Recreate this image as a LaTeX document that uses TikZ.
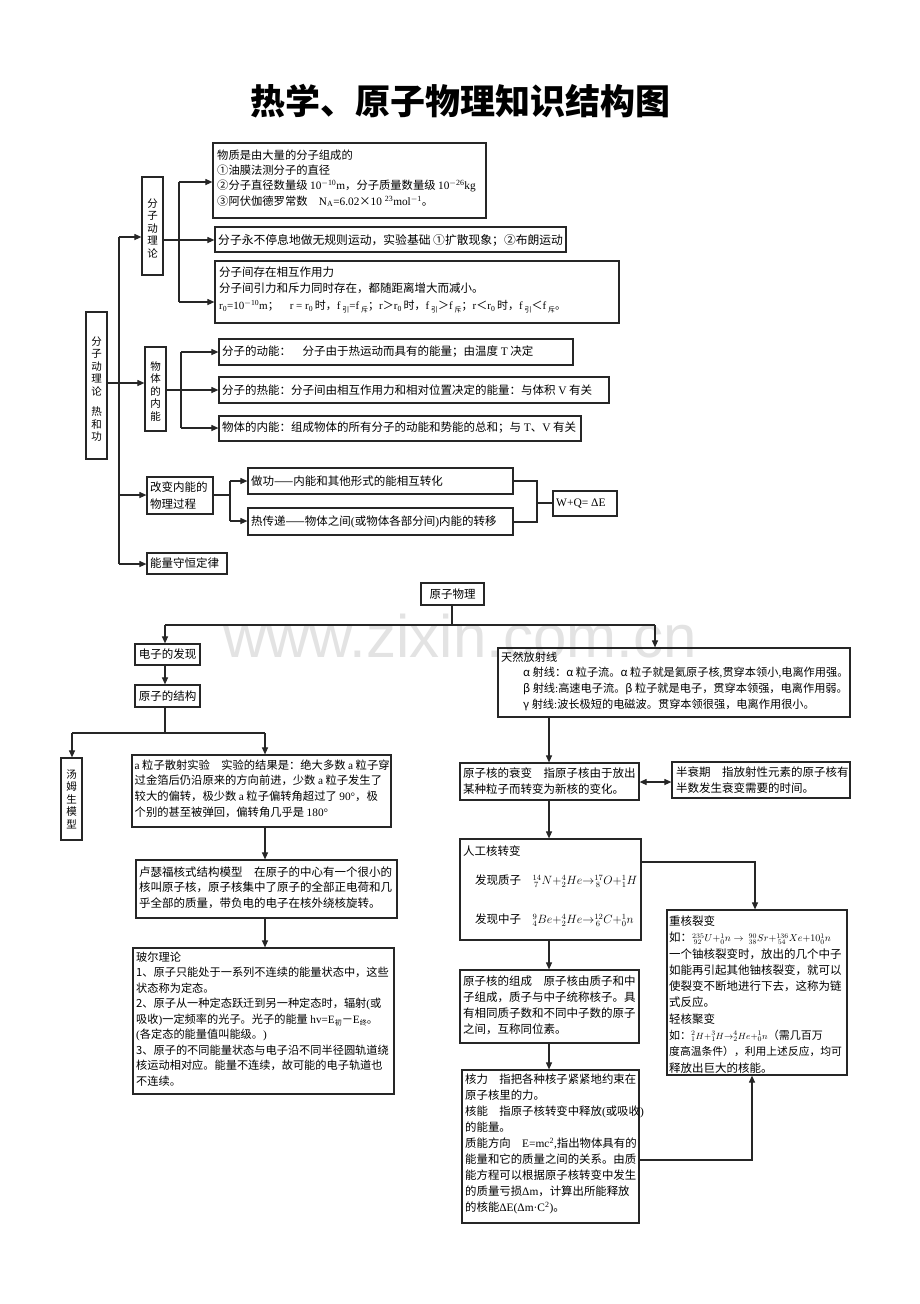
\documentclass[tikz,border=0pt]{standalone}
\usepackage{fontspec}
\setmainfont{Noto Sans CJK SC}
\newfontfamily\lat{Liberation Serif}
\newfontfamily\wmfont{Liberation Sans}
\usetikzlibrary{arrows.meta,fit}
\newcommand\csub[1]{\raisebox{-0.25em}{\fontsize{7}{7}\selectfont #1}}
\tikzset{
  bx/.style={draw=black!85, line width=1.2pt, inner sep=0pt, rectangle},
  txt/.style={inner sep=0pt, align=left, anchor=north west, font=\fontsize{11.5}{15.5}\selectfont},
  vtxt/.style={inner sep=0pt, align=center, font=\fontsize{10.5}{12.5}\selectfont},
  ln/.style={line width=1.1pt, draw=black!85},
  arr/.style={ln, -{Triangle[length=7pt,width=6pt]}},
  darr/.style={ln, {Triangle[length=7pt,width=6pt]}-{Triangle[length=7pt,width=6pt]}},
}
\begin{document}
\begin{tikzpicture}[x=1pt,y=-1pt]
\useasboundingbox (0,0) rectangle (920,1304);
\fill[white] (0,0) rectangle (920,1304);
% watermark
\node[text=black!11, font=\wmfont\fontsize{60}{60}\selectfont, inner sep=0pt] (wm) at (460,636) {www.zixin.com.cn};
% title
\node[font=\fontsize{35}{35}\selectfont\bfseries, inner sep=0pt] (title) at (460,101) {热学、原子物理知识结构图};

% ---------------- thermal part: boxes ----------------
\node[bx, fit={(86,312)(107,459)}] (big) {};
\node[vtxt] (bigt) at (96.5,389) {分\\子\\动\\理\\论\\[8pt]热\\和\\功};
\node[bx, fit={(142,177)(163,275)}] (fz) {};
\node[vtxt] (fzt) at (152.5,228) {分\\子\\动\\理\\论};
\node[bx, fit={(213,143)(486,218)}] (b1) {};
\node[txt, font=\fontsize{11.3}{15.3}\selectfont] (b1t) at (217,149.5) {物质是由大量的分子组成的\\①油膜法测分子的直径\\②分子直径数量级 {\lat 10\textsuperscript{$-$10}m}，分子质量数量级 {\lat 10\textsuperscript{$-$26}kg}\\③阿伏伽德罗常数\quad {\lat N\textsubscript{A}=6.02}×{\lat 10 \textsuperscript{23}mol\textsuperscript{$-$1}}。};
\node[bx, fit={(215,227)(566,252)}] (b2) {};
\node[txt, anchor=west, font=\fontsize{11.8}{15.5}\selectfont] (b2t) at (218,240) {分子永不停息地做无规则运动，实验基础 ①扩散现象；②布朗运动};
\node[bx, fit={(215,261)(619,323)}] (b3) {};
\node[txt, font=\fontsize{11.5}{16.5}\selectfont] (b3t) at (219,266.5) {分子间存在相互作用力\\分子间引力和斥力同时存在，都随距离增大而减小。\\{\fontsize{11}{12}\selectfont {\lat r\textsubscript{0}=10\textsuperscript{$-$10}m}；\quad {\lat r = r\textsubscript{0}}\,时，{\lat f}\,\csub{引}{\lat =f}\,\csub{斥}；{\lat r}＞{\lat r\textsubscript{0}}\,时，{\lat f}\,\csub{引}＞{\lat f}\,\csub{斥}；{\lat r}＜{\lat r\textsubscript{0}}\,时，{\lat f}\,\csub{引}＜{\lat f}\,\csub{斥}。}};
\node[bx, fit={(145,347)(166,431)}] (wn) {};
\node[vtxt] (wnt) at (155.5,391) {物\\体\\的\\内\\能};
\node[bx, fit={(219,339)(573,365)}] (dn) {};
\node[txt, anchor=west] (dnt) at (222,352) {分子的动能：\quad 分子由于热运动而具有的能量；由温度 {\lat T} 决定};
\node[bx, fit={(219,377)(609,403)}] (rn) {};
\node[txt, anchor=west] (rnt) at (222,390) {分子的热能：分子间由相互作用力和相对位置决定的能量：与体积 {\lat V} 有关};
\node[bx, fit={(219,416)(581,441)}] (nn) {};
\node[txt, anchor=west] (nnt) at (222,428) {物体的内能：组成物体的所有分子的动能和势能的总和；与 {\lat T}、{\lat V} 有关};
\node[bx, fit={(147,477)(213,514)}] (gb) {};
\node[txt, font=\fontsize{11.5}{16.5}\selectfont] (gbt) at (150,482) {改变内能的\\物理过程};
\node[bx, fit={(248,468)(513,494)}] (zg) {};
\node[txt, anchor=west] (zgt) at (251,481) {做功——内能和其他形式的能相互转化};
\node[bx, fit={(248,508)(513,535)}] (rc) {};
\node[txt, anchor=west] (rct) at (251,522) {热传递——物体之间{\lat (}或物体各部分间{\lat )}内能的转移};
\node[bx, fit={(553,491)(617,516)}] (wq) {};
\node[txt, anchor=west] (wqt) at (556,503.5) {\lat W+Q= ΔE};
\node[bx, fit={(147,553)(227,574)}] (nl) {};
\node[txt, anchor=west] (nlt) at (150,563.5) {能量守恒定律};

% ---------------- thermal part: connectors ----------------
\coordinate (ta) at (119,237);
\coordinate (tb) at (119,564);
\coordinate (tc) at (119,495);
\draw[ln] (ta) -- (tb);
\draw[arr] (ta) -- (fz.west |- ta);
\coordinate (ty) at (0,383);
\draw[arr] (big.east |- ty) -- (wn.west |- ty);
\draw[arr] (tc) -- (gb.west |- tc);
\draw[arr] (tb) -- (nl.west |- tb);
\coordinate (fa) at (179,182);
\coordinate (fb) at (179,302);
\coordinate (fy) at (0,240);
\draw[ln] (fa) -- (fb);
\draw[arr] (fa) -- (b1.west |- fa);
\draw[arr] (fz.east |- fy) -- (b2.west |- fy);
\draw[arr] (fb) -- (b3.west |- fb);
\coordinate (wa) at (181,352);
\coordinate (wb) at (181,428);
\coordinate (wy) at (0,390);
\draw[ln] (wa) -- (wb);
\draw[arr] (wa) -- (dn.west |- wa);
\draw[arr] (wn.east |- wy) -- (rn.west |- wy);
\draw[arr] (wb) -- (nn.west |- wb);
\coordinate (ga) at (230,481);
\coordinate (gc) at (230,521);
\draw[ln] (gb.east |- tc) -- (tc -| ga);
\draw[ln] (ga) -- (gc);
\draw[arr] (ga) -- (zg.west |- ga);
\draw[arr] (gc) -- (rc.west |- gc);
\coordinate (ra) at (537,481);
\coordinate (rb) at (537,522);
\coordinate (rm) at (537,503);
\draw[ln] (zg.east |- ra) -- (ra) -- (rb) -- (rc.east |- rb);
\draw[ln] (rm) -- (wq.west |- rm);

% ---------------- atomic part: boxes ----------------
\node[bx, fit={(421,583)(484,605)}] (yz) {};
\node[txt, anchor=center] (yzt) at (yz.center) {原子物理};
\node[bx, fit={(135,644)(200,665)}] (dz) {};
\node[txt, anchor=center] (dzt) at (dz.center) {电子的发现};
\node[bx, fit={(135,685)(200,707)}] (jg) {};
\node[txt, anchor=center] (jgt) at (jg.center) {原子的结构};
\node[bx, fit={(61,758)(82,840)}] (tm) {};
\node[vtxt] (tmt) at (tm.center) {汤\\姆\\生\\模\\型};
\node[bx, fit={(132,755)(391,827)}] (as) {};
\node[txt, font=\fontsize{11.3}{15.6}\selectfont] (ast) at (134.5,759.5) {{\lat a} 粒子散射实验\quad 实验的结果是：绝大多数 {\lat a} 粒子穿\\过金箔后仍沿原来的方向前进，少数 {\lat a} 粒子发生了\\较大的偏转，极少数 {\lat a} 粒子偏转角超过了 {\lat 90°}，极\\个别的甚至被弹回，偏转角几乎是 {\lat 180°}};
\node[bx, fit={(136,860)(397,918)}] (lsf) {};
\node[txt] (lsft) at (139,866.5) {卢瑟福核式结构模型\quad 在原子的中心有一个很小的\\核叫原子核，原子核集中了原子的全部正电荷和几\\乎全部的质量，带负电的电子在核外绕核旋转。};
\node[bx, fit={(133,948)(394,1094)}] (be) {};
\node[txt, font=\fontsize{11.2}{15.5}\selectfont] (bet) at (136,951.5) {玻尔理论\\1、原子只能处于一系列不连续的能量状态中，这些\\状态称为定态。\\2、原子从一种定态跃迁到另一种定态时，辐射{\lat (}或\\吸收{\lat )}一定频率的光子。光子的能量 {\lat hv=E}\csub{初}－{\lat E}\csub{终}。\\{\lat (}各定态的能量值叫能级。{\lat )}\\3、原子的不同能量状态与电子沿不同半径圆轨道绕\\核运动相对应。能量不连续，故可能的电子轨道也\\不连续。};
\node[bx, fit={(498,648)(850,717)}] (tr) {};
\node[txt, font=\fontsize{11.2}{15.6}\selectfont] (trt) at (501,651.5) {天然放射线\\\hspace{22pt}α 射线：α 粒子流。α 粒子就是氦原子核{\lat ,}贯穿本领小{\lat ,}电离作用强。\\\hspace{22pt}β 射线{\lat :}高速电子流。β 粒子就是电子，贯穿本领强，电离作用弱。\\\hspace{22pt}γ 射线{\lat :}波长极短的电磁波。贯穿本领很强，电离作用很小。};
\node[bx, fit={(460,763)(639,800)}] (sb) {};
\node[txt, font=\fontsize{11.5}{16}\selectfont] (sbt) at (463,767.5) {原子核的衰变\quad 指原子核由于放出\\某种粒子而转变为新核的变化。};
\node[bx, fit={(672,762)(850,798)}] (bs) {};
\node[txt, font=\fontsize{11.5}{16}\selectfont] (bst) at (676,766.5) {半衰期\quad 指放射性元素的原子核有\\半数发生衰变需要的时间。};
\node[bx, fit={(460,839)(641,940)}] (rg) {};
\node[txt] (rgt) at (463,845.5) {人工核转变};
\node[txt, anchor=west] (rgp) at (475,881) {发现质子\quad ${}^{14}_{\,7}N{+}{}^{4}_{2}He{\rightarrow}{}^{17}_{\,8}O{+}{}^{1}_{1}H$};
\node[txt, anchor=west] (rgn) at (475,920) {发现中子\quad ${}^{9}_{4}Be{+}{}^{4}_{2}He{\rightarrow}{}^{12}_{\,6}C{+}{}^{1}_{0}n$};
\node[bx, fit={(460,970)(639,1043)}] (zc) {};
\node[txt, font=\fontsize{11.5}{16}\selectfont] (zct) at (463,975.5) {原子核的组成\quad 原子核由质子和中\\子组成，质子与中子统称核子。具\\有相同质子数和不同中子数的原子\\之间，互称同位素。};
\node[bx, fit={(462,1070)(639,1223)}] (hl) {};
\node[txt, font=\fontsize{11.4}{16}\selectfont] (hlt) at (465,1073.5) {核力\quad 指把各种核子紧紧地约束在\\原子核里的力。\\核能\quad 指原子核转变中释放{\lat (}或吸收{\lat )}\\的能量。\\质能方向\quad {\lat E=mc\textsuperscript{2},}指出物体具有的\\能量和它的质量之间的关系。由质\\能方程可以根据原子核转变中发生\\的质量亏损{\lat Δm}，计算出所能释放\\的核能{\lat ΔE(Δm·C\textsuperscript{2})}。};
\node[bx, fit={(667,910)(847,1075)}] (zh) {};
\node[txt, font=\fontsize{11.5}{16.3}\selectfont, execute at begin node={\lineskiplimit=-20pt}] (zht) at (669,915.5) {重核裂变\\如：{\fontsize{10}{16.3}\selectfont ${}^{235}_{\,92}U{+}{}^{1}_{0}n\rightarrow\ {}^{90}_{38}Sr{+}{}^{136}_{\,54}Xe{+}10{}^{1}_{0}n$}\\一个铀核裂变时，放出的几个中子\\如能再引起其他铀核裂变，就可以\\使裂变不断地进行下去，这称为链\\式反应。\\轻核聚变\\{\fontsize{11}{16.3}\selectfont 如：{\fontsize{9.5}{16.3}\selectfont ${}^{2}_{1}H{+}{}^{3}_{1}H{\rightarrow}{}^{4}_{2}He{+}{}^{1}_{0}n$}（需几百万}\\{\fontsize{10.8}{16.3}\selectfont 度高温条件），利用上述反应，均可}\\释放出巨大的核能。};

% ---------------- atomic part: connectors ----------------
\coordinate (ya) at (452,625);
\coordinate (yl) at (165,625);
\coordinate (yr) at (655,625);
\draw[ln] (yz.south -| ya) -- (ya);
\draw[ln] (yl) -- (yr);
\draw[arr] (yl) -- (dz.north -| yl);
\draw[arr] (yr) -- (tr.north -| yr);
\draw[arr] (dz.south -| yl) -- (jg.north -| yl);
\coordinate (ja) at (165,733);
\coordinate (jl) at (72,733);
\coordinate (jr) at (265,733);
\draw[ln] (jg.south -| ja) -- (ja);
\draw[ln] (jl) -- (jr);
\draw[arr] (jl) -- (tm.north -| jl);
\draw[arr] (jr) -- (as.north -| jr);
\coordinate (lx) at (265,0);
\draw[arr] (as.south -| lx) -- (lsf.north -| lx);
\draw[arr] (lsf.south -| lx) -- (be.north -| lx);
\coordinate (rx) at (549,0);
\draw[arr] (tr.south -| rx) -- (sb.north -| rx);
\draw[arr] (sb.south -| rx) -- (rg.north -| rx);
\draw[arr] (rg.south -| rx) -- (zc.north -| rx);
\draw[arr] (zc.south -| rx) -- (hl.north -| rx);
\coordinate (dy) at (0,782);
\draw[darr] (sb.east |- dy) -- (bs.west |- dy);
\coordinate (ka) at (755,862);
\draw[arr] (rg.east |- ka) -- (ka) -- (zh.north -| ka);
\coordinate (kb) at (752,1160);
\draw[arr] (hl.east |- kb) -- (kb) -- (zh.south -| kb);
\end{tikzpicture}
\end{document}
